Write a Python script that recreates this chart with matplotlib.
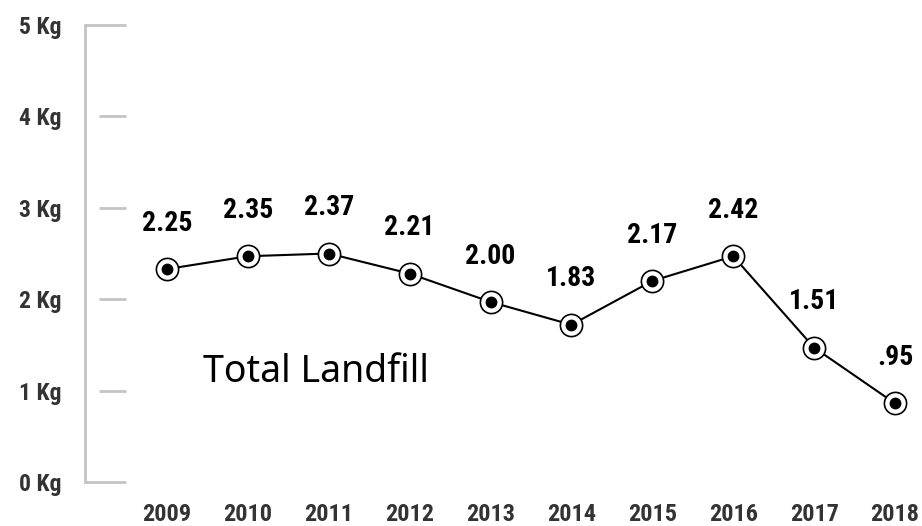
import matplotlib
matplotlib.use("Agg")
import matplotlib.pyplot as plt

# dados do grafico
anos = [2009, 2010, 2011, 2012, 2013, 2014, 2015, 2016, 2017, 2018]
# posicao dos pontos (Kg)
valores = [2.33, 2.47, 2.50, 2.28, 1.97, 1.72, 2.20, 2.47, 1.47, 0.86]
# rotulos escritos acima de cada ponto
rotulos = ["2.25", "2.35", "2.37", "2.21", "2.00", "1.83", "2.17", "2.42", "1.51", ".95"]
y_ticks = [0, 1, 2, 3, 4, 5]
y_labels = ["0 Kg", "1 Kg", "2 Kg", "3 Kg", "4 Kg", "5 Kg"]
titulo = "Total Landfill"

W, H = 922, 526
narrow = ["Roboto Condensed", "DejaVu Sans"]
cinza = "#c4c4c4"
texto = "#333333"

fig = plt.figure(figsize=(W / 100, H / 100), dpi=100)
# eixo posicionado em pixels: linha vertical em x=85, 0 Kg em y=482, 5 Kg em y=25
x0, y0, y5 = 85, 482, 25
ax = fig.add_axes([x0 / W, 1 - y0 / H, (W - x0) / W, (y0 - y5) / H])

passo = 80.9
ax.set_xlim(2009 - (167 - x0) / passo, 2018 + (W - 895) / passo)
ax.set_ylim(0, 5)

for s in ["top", "right", "bottom"]:
    ax.spines[s].set_visible(False)
ax.spines["left"].set_color(cinza)
ax.spines["left"].set_linewidth(2)

# tracos horizontais do eixo y
largura = W - x0
trans = ax.get_yaxis_transform()
for v in y_ticks:
    if v in (0, 5):
        ax.plot([0, 41 / largura], [v, v], color=cinza, lw=2, transform=trans,
                clip_on=False, solid_capstyle="butt")
    else:
        ax.plot([14 / largura, 41 / largura], [v, v], color=cinza, lw=2,
                transform=trans, clip_on=False, solid_capstyle="butt")

ax.set_yticks(y_ticks)
ax.set_yticklabels(y_labels, family=narrow, fontweight="bold", fontsize=17, color=texto)
ax.tick_params(axis="y", length=0, pad=17)

ax.set_xticks(anos)
ax.set_xticklabels([str(a) for a in anos], family=narrow, fontweight="bold",
                   fontsize=17.5, color=texto)
ax.tick_params(axis="x", length=0, pad=15)

# linha e marcadores
ax.plot(anos, valores, color="black", lw=1.5, zorder=2)
ax.plot(anos, valores, "o", ms=16, mfc="white", mec="black", mew=1.2, zorder=3)
ax.plot(anos, valores, "o", ms=7.5, color="black", zorder=4)

for a, v, r in zip(anos, valores, rotulos):
    ax.annotate(r, (a, v), xytext=(0, 33), textcoords="offset points",
                ha="center", va="center", family=narrow, fontweight="bold",
                fontsize=20, color="black")

fig.text(203 / W, 1 - 382 / H, titulo, family=["Noto Sans", "DejaVu Sans"],
         fontsize=27, color="black", ha="left", va="baseline")

fig.savefig("out.png", dpi=100, facecolor="white")
